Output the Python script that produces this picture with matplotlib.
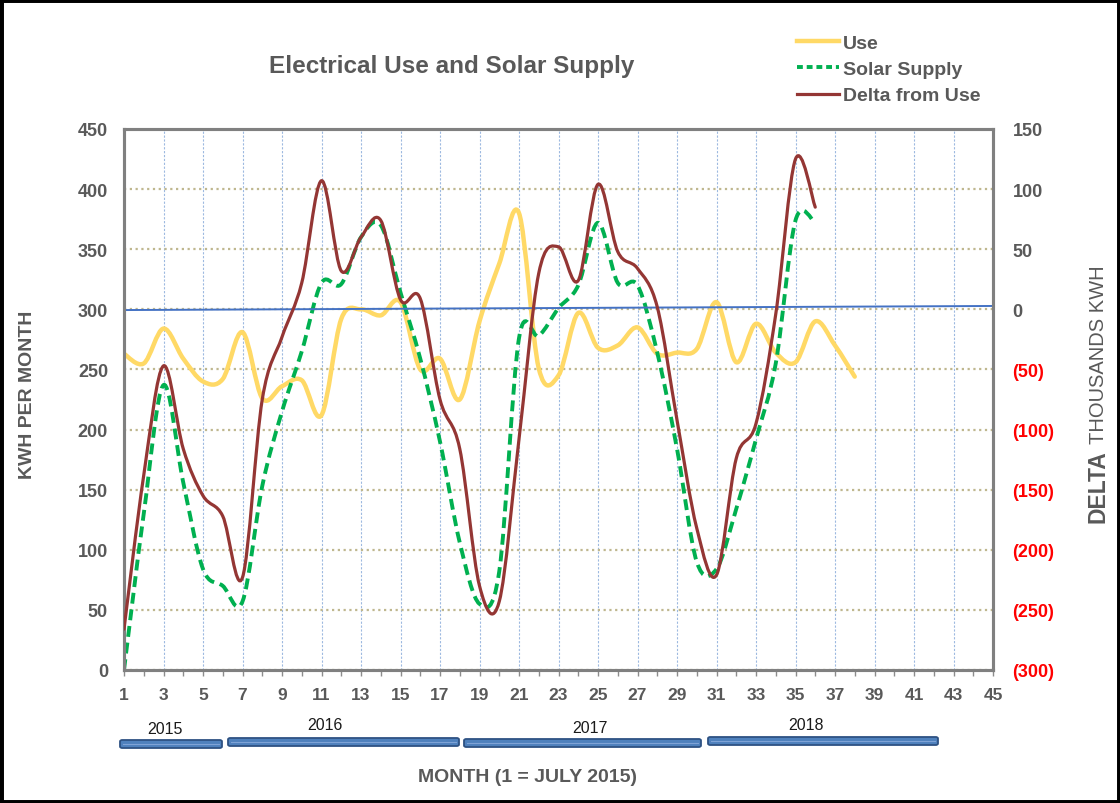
import numpy as np
import matplotlib
matplotlib.use("Agg")
import matplotlib.pyplot as plt
from matplotlib.path import Path
from matplotlib.patches import PathPatch, FancyBboxPatch, Rectangle
from matplotlib.lines import Line2D

plt.rcParams['font.family'] = ['Liberation Sans', 'DejaVu Sans']

# ---------------- data ----------------
months_use = list(range(1, 39))
use_kwh = [263, 255, 284, 259, 240, 242, 281, 226, 236, 241,
           212, 292, 300, 295, 306, 250, 259, 225, 290, 338,
           380, 251, 245, 297, 268, 270, 285, 263, 264, 267,
           306, 256, 288, 264, 256, 290, 270, 244]

months_solar = list(range(1, 37))
solar_kwh = [0, 130, 237, 156, 84, 70, 57, 153, 215, 265,
             322, 321, 360, 370, 314, 259, 190, 106, 55, 82,
             276, 278, 301, 320, 372, 322, 320, 264, 184, 90,
             84, 134, 192, 255, 374, 372]

months_delta = list(range(1, 37))
delta_kwh = [-266, -138, -47, -116, -155, -172, -223, -75, -23, 22,
             107, 32, 60, 74, 8, 9, -75, -116, -230, -243,
             -108, 30, 52, 24, 104, 48, 34, 2, -92, -182,
             -221, -124, -95, -4, 125, 85]

trend_x = [1, 45]
trend_y = [-0.6, 2.8]

left_ticks = list(range(0, 451, 50))
right_ticks = list(range(-300, 151, 50))
x_ticks = list(range(1, 46, 2))

years = ['2015', '2016', '2017', '2018']

# ---------------- helpers ----------------
def smooth_path(xs, ys):
    xs = np.asarray(xs, float)
    ys = np.asarray(ys, float)
    n = len(xs)
    verts = [(xs[0], ys[0])]
    codes = [Path.MOVETO]
    for i in range(n - 1):
        i0 = max(i - 1, 0)
        i3 = min(i + 2, n - 1)
        c1 = (xs[i] + (xs[i + 1] - xs[i0]) / 6.0, ys[i] + (ys[i + 1] - ys[i0]) / 6.0)
        c2 = (xs[i + 1] - (xs[i3] - xs[i]) / 6.0, ys[i + 1] - (ys[i3] - ys[i]) / 6.0)
        verts += [c1, c2, (xs[i + 1], ys[i + 1])]
        codes += [Path.CURVE4] * 3
    return Path(verts, codes)

GRAY = '#595959'
USE_C = '#FFD966'
SOLAR_C = '#00B050'
DELTA_C = '#943634'

# ---------------- figure ----------------
W, H = 1120, 804
fig = plt.figure(figsize=(W / 100, H / 100), dpi=100)
fig.patch.set_facecolor('white')

L, R, T, B = 124, 993, 130, 671
ax = fig.add_axes([L / W, 1 - B / H, (R - L) / W, (B - T) / H])
ax.set_xlim(1, 45)
ax.set_ylim(0, 450)

ax.set_xticks(x_ticks)
ax.set_xticks(range(1, 46), minor=True)
ax.set_xticklabels([str(v) for v in x_ticks], fontsize=12.5, color=GRAY, fontweight='bold')
ax.set_yticks(left_ticks)
ax.set_yticklabels([str(v) for v in left_ticks], fontsize=13, color=GRAY, fontweight='bold')
ax.tick_params(axis='x', which='both', direction='out', length=4, width=1, color='#8C8C8C', pad=8)
ax.tick_params(axis='y', length=0, pad=11.5)

ax.grid(axis='x', which='major', color='#9DB9E0', linestyle=(0, (2, 1.5)), linewidth=0.8)
ax.grid(axis='y', which='major', color='#BFB78F', linestyle=(0, (1, 1.6)), linewidth=1.6)
ax.set_axisbelow(True)

for s in ax.spines.values():
    s.set_color('#808080')
    s.set_linewidth(2.2)

ax.add_patch(PathPatch(smooth_path(months_use, use_kwh), facecolor='none',
                       edgecolor=USE_C, linewidth=3.2, capstyle='round', joinstyle='round', zorder=3))
ax.add_patch(PathPatch(smooth_path(months_solar, solar_kwh), facecolor='none',
                       edgecolor=SOLAR_C, linewidth=2.8, linestyle=(0, (2.8, 1.5)),
                       capstyle='butt', zorder=4))

ax2 = ax.twinx()
ax2.set_ylim(-300, 150)
ax2.set_yticks(right_ticks)
ax2.set_yticklabels([str(v) if v >= 0 else '(%d)' % (-v) for v in right_ticks],
                    fontsize=13, fontweight='bold')
for lab, v in zip(ax2.get_yticklabels(), right_ticks):
    lab.set_color(GRAY if v >= 0 else '#FF0000')
ax2.tick_params(axis='y', length=0, pad=14)
for s in ax2.spines.values():
    s.set_color('#808080')
    s.set_linewidth(2.2)

ax2.plot(trend_x, trend_y, color='#4472C4', linewidth=1.4, zorder=2)
ax2.add_patch(PathPatch(smooth_path(months_delta, delta_kwh), facecolor='none',
                        edgecolor=DELTA_C, linewidth=2.3, capstyle='round', joinstyle='round', zorder=5))

# ---------------- text ----------------
fig.text(452 / W, 1 - 66 / H, 'Electrical Use and Solar Supply', ha='center', va='center',
         fontsize=17.5, fontweight='bold', color=GRAY)
fig.text(28 / W, 1 - 395 / H, 'KWH PER MONTH', rotation=90, ha='center', va='center',
         fontsize=14, fontweight='bold', color=GRAY)
fig.text(1098 / W, 1 - 487 / H, 'DELTA', rotation=90, ha='center', va='center',
         fontsize=16.5, fontweight='bold', color=GRAY)
fig.text(1098 / W, 1 - 355 / H, 'THOUSANDS KWH', rotation=90, ha='center', va='center',
         fontsize=14.5, color=GRAY)
fig.text(527 / W, 1 - 778 / H, 'MONTH (1 = JULY 2015)', ha='center', va='center',
         fontsize=14, fontweight='bold', color=GRAY)

# legend
handles = [Line2D([], [], color=USE_C, linewidth=3.2),
           Line2D([], [], color=SOLAR_C, linewidth=2.8, linestyle=(0, (1.5, 1.0))),
           Line2D([], [], color=DELTA_C, linewidth=2.3)]
leg = fig.legend(handles, ['Use', 'Solar Supply', 'Delta from Use'],
                 loc='upper left', bbox_to_anchor=(797 / W, 1 - 35 / H),
                 frameon=False, handlelength=2.15, handletextpad=0.2, labelspacing=0.45,
                 borderpad=0, borderaxespad=0,
                 prop={'size': 14, 'weight': 'bold'})
for t in leg.get_texts():
    t.set_color(GRAY)

# year bars
bars = [(120, 222, 745), (228, 459, 743), (464, 701, 744), (708, 938, 742)]
labels_pos = [(165, 730), (325, 726), (590, 729), (806, 726)]
for (x0, x1, yc), (lx, ly), yr in zip(bars, labels_pos, years):
    bh = 8
    p = FancyBboxPatch((x0 / W, 1 - (yc + bh / 2) / H), (x1 - x0) / W, bh / H,
                       boxstyle='round,pad=0,rounding_size=0.002', transform=fig.transFigure,
                       facecolor='#4F81BD', edgecolor='#2E5283', linewidth=1.3)
    fig.add_artist(p)
    fig.add_artist(Line2D([(x0 + 3) / W, (x1 - 3) / W], [1 - yc / H, 1 - yc / H],
                          transform=fig.transFigure, color='#7FA3D6', linewidth=0.8))
    fig.text(lx / W, 1 - ly / H, yr, ha='center', va='center', fontsize=11.5, color='#1A1A1A')

# outer border
fig.add_artist(Rectangle((0, 0), 1, 1, transform=fig.transFigure, facecolor='none',
                         edgecolor='black', linewidth=5))

fig.savefig('out.png', dpi=100)
